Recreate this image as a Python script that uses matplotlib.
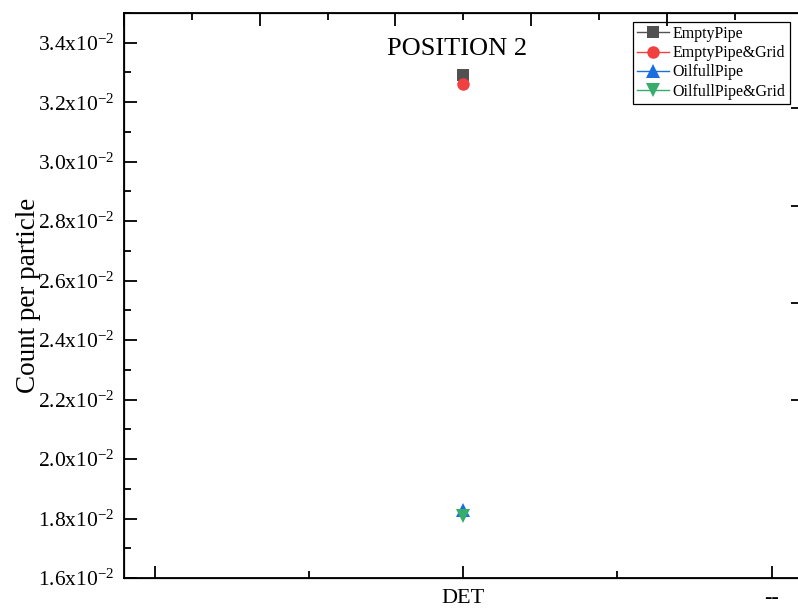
import numpy as np
import matplotlib.pyplot as plt
from matplotlib.ticker import FixedLocator, MultipleLocator

plt.rcParams['font.family'] = ['Liberation Serif', 'DejaVu Serif']
plt.rcParams['mathtext.fontset'] = 'custom'
plt.rcParams['mathtext.rm'] = 'Liberation Serif'
plt.rcParams['mathtext.it'] = 'Liberation Serif:italic'
plt.rcParams['axes.unicode_minus'] = False

# --------------------------------Data----------------------------------------
categories = ['', 'DET', '--']
series_names = ['EmptyPipe', 'EmptyPipe&Grid', 'OilfullPipe', 'OilfullPipe&Grid']
det_counts = [3.29e-2, 3.26e-2, 1.83e-2, 1.81e-2]
y_ticks = [1.6e-2, 1.8e-2, 2.0e-2, 2.2e-2, 2.4e-2, 2.6e-2, 2.8e-2, 3.0e-2, 3.2e-2, 3.4e-2]

colors = ['#515151', '#F14040', '#1A6FDF', '#37AD6B']
markers = ['s', 'o', '^', 'v']
msizes = [8.5, 9, 10, 10]

fig = plt.figure(figsize=(7.98, 6.08), dpi=100)
ax = fig.add_axes([0.1554, 0.0493, 0.8503, 0.9293])

for name, val, c, m, ms in zip(series_names, det_counts, colors, markers, msizes):
    ax.plot([1], [val], color=c, marker=m, markersize=ms, linewidth=1.0,
            markeredgewidth=0, label=name)

ax.set_xlim(-0.1, 2.1)
ax.set_ylim(0.016, 0.035)
ax.set_xticks([0, 1, 2])
ax.set_xticklabels(categories)
ax.xaxis.set_minor_locator(FixedLocator([0.5, 1.5]))
ax.set_yticks(y_ticks)
ax.set_yticklabels([r'%.1fx10$^{\mathregular{-2}}$' % (v * 100) for v in y_ticks])
ax.yaxis.set_minor_locator(MultipleLocator(0.001))

ax.tick_params(which='major', direction='in', length=9, width=1.3, labelsize=15.5, pad=7)
ax.tick_params(which='minor', direction='in', length=5, width=1.3)
ax.tick_params(axis='x', which='major', labelsize=16, pad=8)
ax.tick_params(top=False, right=False, which='both')
for s in ax.spines.values():
    s.set_linewidth(1.3)

ax.set_ylabel('Count per particle', fontsize=19.5, labelpad=-2)
ax.text(0.98, 0.0338, 'POSITION 2', ha='center', va='center', fontsize=19)

# top and right frame ticks
top = ax.twiny()
top.set_xlim(0, 5)
top.xaxis.set_major_locator(MultipleLocator(1))
top.xaxis.set_minor_locator(MultipleLocator(0.5))
top.tick_params(which='major', direction='in', length=9, width=1.3, labeltop=False)
top.tick_params(which='minor', direction='in', length=5, width=1.3)

right = ax.twinx()
right.set_ylim(-0.83, 4.98)
right.set_yticks([1, 2, 3, 4])
right.tick_params(direction='in', length=9, width=1.3, labelright=False)

leg = ax.legend(loc='upper right', bbox_to_anchor=(0.981, 0.984), fontsize=11.5,
                frameon=True, fancybox=False, edgecolor='black', framealpha=1,
                handlelength=2.0, handletextpad=0.25, borderpad=0.25,
                labelspacing=0.2, borderaxespad=0)
leg.get_frame().set_linewidth(0.9)
leg.set_zorder(5)

fig.savefig('out.png', dpi=100)
